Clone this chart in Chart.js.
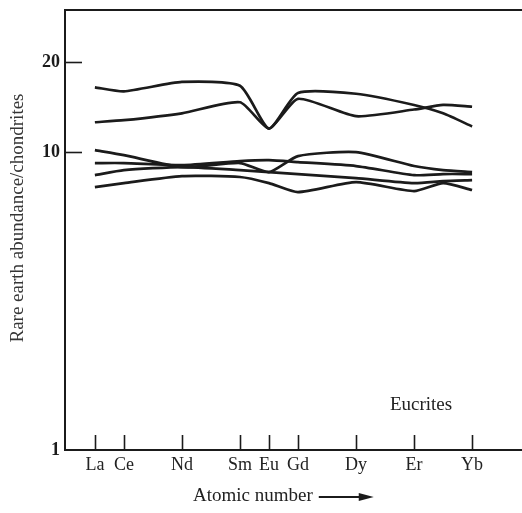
<!DOCTYPE html>
<html>
<head>
<meta charset="utf-8">
<script src="https://cdn.jsdelivr.net/npm/chart.js@4.4.0/dist/chart.umd.min.js"></script>
<style>
  html, body { margin: 0; padding: 0; background: #fff; }
  #wrap { width: 522px; height: 513px; position: relative; }
</style>
</head>
<body>
<div id="wrap"><canvas id="chart"></canvas></div>
<script>
// Atomic numbers of the plotted points (Tm = 69 has no label)
const atomicNumbers = [57, 58, 60, 62, 63, 64, 66, 68, 69, 70];
const elementSymbols = { 57: "La", 58: "Ce", 60: "Nd", 62: "Sm", 63: "Eu", 64: "Gd", 66: "Dy", 68: "Er", 70: "Yb" };
const yTickValues = [1, 10, 20];
const innerTickValues = [10, 20];
const patternLabel = "Eucrites";
const xTitle = "Atomic number";
const yTitle = "Rare earth abundance/chondrites";

// Eucrite REE abundances / chondrites
const eucriteA = [16.5, 16.0, 17.2, 16.7, 12.0, 15.8, 15.7, 14.4, 13.5, 12.2];
const eucriteB = [12.6, 12.8, 13.5, 14.7, 12.0, 15.1, 13.2, 13.9, 14.4, 14.2];
const eucriteC = [10.15, 9.77, 8.91, 9.19, 8.57, 9.70, 10.0, 8.98, 8.70, 8.57];
const eucriteD = [9.19, 9.19, 9.04, 9.33, 9.40, 9.26, 8.98, 8.37, 8.44, 8.44];
const eucriteE = [8.37, 8.70, 8.91, 8.70, 8.57, 8.44, 8.18, 7.87, 7.99, 8.05];
const eucriteF = [7.63, 7.87, 8.31, 8.25, 7.87, 7.34, 7.93, 7.40, 7.87, 7.46];

const INK = "#1b1b1b";
const SERIF = "'Liberation Serif', 'DejaVu Serif', serif";

function toPoints(values) {
  return atomicNumbers.map((z, i) => ({ x: z, y: values[i] }));
}

function lineSet(values) {
  return {
    data: toPoints(values),
    borderColor: INK,
    borderWidth: 2.7,
    pointRadius: 0,
    tension: 0.2,
    fill: false,
  };
}

// Top frame line, inward tick marks, axis titles and the "Eucrites" note
const frameAndTicks = {
  id: "frameAndTicks",
  afterDraw(chart) {
    const { ctx, chartArea, scales } = chart;
    ctx.save();
    ctx.strokeStyle = INK;
    ctx.lineWidth = 2;
    ctx.beginPath();
    ctx.moveTo(chartArea.left, chartArea.top);
    ctx.lineTo(chartArea.right, chartArea.top);
    ctx.stroke();

    ctx.lineWidth = 1.6;
    Object.keys(elementSymbols).forEach((z) => {
      const px = Math.round(scales.x.getPixelForValue(+z)) + 0.5;
      ctx.beginPath();
      ctx.moveTo(px, chartArea.bottom);
      ctx.lineTo(px, chartArea.bottom - 15);
      ctx.stroke();
    });
    innerTickValues.forEach((v) => {
      const py = Math.round(scales.y.getPixelForValue(v)) + 0.5;
      ctx.beginPath();
      ctx.moveTo(chartArea.left, py);
      ctx.lineTo(chartArea.left + 17, py);
      ctx.stroke();
    });

    // "Eucrites"
    ctx.font = "19px " + SERIF;
    ctx.fillStyle = "#222";
    ctx.textAlign = "center";
    ctx.textBaseline = "middle";
    ctx.fillText(patternLabel, scales.x.getPixelForValue(68.24), scales.y.getPixelForValue(1.42));

    // x title with arrow
    ctx.textAlign = "left";
    const tx = chartArea.left + 128;
    const ty = chartArea.bottom + 46;
    ctx.fillText(xTitle, tx, ty);
    const ax = tx + ctx.measureText(xTitle).width + 6;
    ctx.lineWidth = 2;
    ctx.beginPath();
    ctx.moveTo(ax, ty + 1);
    ctx.lineTo(ax + 44, ty + 1);
    ctx.stroke();
    ctx.beginPath();
    ctx.moveTo(ax + 55, ty + 1);
    ctx.lineTo(ax + 40, ty - 3);
    ctx.lineTo(ax + 40, ty + 5);
    ctx.closePath();
    ctx.fillStyle = INK;
    ctx.fill();

    // y title
    ctx.translate(18, 218);
    ctx.rotate(-Math.PI / 2);
    ctx.textAlign = "center";
    ctx.fillStyle = "#363636";
    ctx.fillText(yTitle, 0, 0);
    ctx.restore();
  },
};

const ctx = document.getElementById("chart").getContext("2d");
new Chart(ctx, {
  type: "line",
  data: {
    datasets: [eucriteA, eucriteB, eucriteC, eucriteD, eucriteE, eucriteF].map(lineSet),
  },
  options: {
    responsive: true,
    maintainAspectRatio: false,
    animation: false,
    layout: { padding: { top: 10, left: 0, right: 0, bottom: 0 } },
    plugins: { legend: { display: false }, tooltip: { enabled: false } },
    scales: {
      x: {
        type: "linear",
        min: 55.97,
        max: 71.72,
        afterBuildTicks: (scale) => {
          scale.ticks = Object.keys(elementSymbols).map((z) => ({ value: +z }));
        },
        afterFit: (scale) => {
          scale.height = 63;
          scale.paddingLeft = 0;
          scale.paddingRight = 0;
        },
        grid: { display: false, drawTicks: false },
        border: { display: true, color: INK, width: 2 },
        ticks: {
          autoSkip: false,
          maxRotation: 0,
          padding: 4,
          color: "#222",
          font: { family: SERIF, size: 18 },
          callback: (v) => elementSymbols[v] || "",
        },
      },
      y: {
        type: "logarithmic",
        min: 1,
        max: 30,
        afterBuildTicks: (scale) => {
          scale.ticks = yTickValues.map((v) => ({ value: v }));
        },
        afterFit: (scale) => {
          scale.width = 65;
          scale.paddingTop = 0;
          scale.paddingBottom = 0;
        },
        grid: { display: false, drawTicks: false },
        border: { display: true, color: INK, width: 2 },
        ticks: {
          padding: 5,
          color: "#1b1b1b",
          font: { family: SERIF, size: 18, weight: "bold" },
          callback: (v) => String(v),
        },
      },
    },
  },
  plugins: [frameAndTicks],
});
</script>
</body>
</html>
